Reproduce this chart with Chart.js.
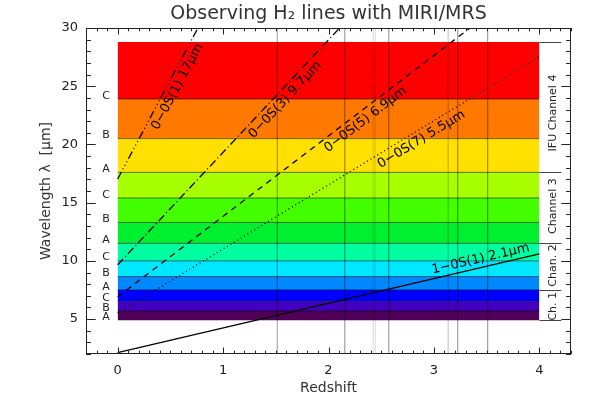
<!DOCTYPE html>
<html>
<head>
<meta charset="utf-8">
<script src="https://cdn.jsdelivr.net/npm/chart.js@4"></script>
<style>
  html, body { margin: 0; padding: 0; background: #fff; }
  #wrap { width: 598px; height: 409px; }
</style>
</head>
<body>
<div id="wrap"><canvas id="chart" width="598" height="409"></canvas></div>
<script>
// MIRI/MRS sub-band edges in micron, from bottom to top
const bandEdges = [4.9, 5.7, 6.5, 7.5, 8.65, 10.0, 11.5, 13.3, 15.4, 17.6, 20.5, 23.9, 28.8];
const bandLetters = ['A', 'B', 'C', 'A', 'B', 'C', 'A', 'B', 'C', 'A', 'B', 'C'];
const channelEdges = [4.9, 7.5, 11.5, 17.6, 28.8];
const channelNames = ['Ch. 1', 'Chan. 2', 'Channel 3', 'IFU Channel 4'];

// H2 lines: observed wavelength at z=0 and at z=4
const lineNames = ['0\u22120S(1) 17\u03bcm', '0\u22120S(3) 9.7\u03bcm', '0\u22120S(5) 6.9\u03bcm', '0\u22120S(7) 5.5\u03bcm', '1\u22120S(1) 2.1\u03bcm'];
const lineAtZ0 = [17.03, 9.66, 6.91, 5.51, 2.12];
const lineAtZ4 = [85.15, 48.3, 34.55, 27.55, 10.6];
const zStart = 0, zEnd = 4;

// redshifts of the marked sources
const sourceZ = [1.514, 2.155, 2.424, 2.443, 2.572, 3.135, 3.226, 3.510];

const xTicks = [0, 1, 2, 3, 4];
const yTicks = [5, 10, 15, 20, 25, 30];
const xMin = -0.3, xMax = 4.3, yMin = 2, yMax = 30;

// ---- styles ----
const bandColors = ['#500058', '#4400c0', '#0000ff', '#0088ff', '#00e8ff', '#00ffa0',
                    '#00f030', '#44ff00', '#a8ff00', '#ffe000', '#ff7800', '#ff0000'];
const sourceAlpha = [0.4, 0.45, 0.15, 0.15, 0.45, 0.25, 0.45, 0.45];
const lineDash = [[8, 3, 1, 3, 1, 3, 1, 3], [8, 3, 1, 3], [6, 5], [1, 3], []];
const lineLabelZ = [0.275, 1.2, 1.92, 2.43, 3.0];
const lineLabelAbove = [false, false, false, false, true];
const channelLabelY = [6.1, 9.6, 14.7, 22.7];
const FONT = "'DejaVu Sans', sans-serif";
const INK = '#222';

var datasets = [];

bandColors.forEach((c, i) => {
  datasets.push({
    data: [{x: zStart, y: bandEdges[i + 1]}, {x: zEnd, y: bandEdges[i + 1]}],
    fill: {value: bandEdges[i]},
    backgroundColor: c,
    borderColor: i == bandColors.length - 1 ? 'rgba(0,0,0,0)' : 'rgba(0,0,0,0.55)',
    borderWidth: 1,
    pointRadius: 0,
    order: 3
  });
});

sourceZ.forEach((z, i) => {
  datasets.push({
    data: [{x: z, y: yMin}, {x: z, y: yMax}],
    borderColor: 'rgba(0,0,0,' + sourceAlpha[i] + ')',
    borderWidth: 1,
    pointRadius: 0,
    fill: false,
    order: 2
  });
});

lineNames.forEach((n, i) => {
  datasets.push({
    label: n,
    data: [{x: zStart, y: lineAtZ0[i]}, {x: zEnd, y: lineAtZ4[i]}],
    borderColor: '#000',
    borderWidth: 1.3,
    borderDash: lineDash[i],
    pointRadius: 0,
    fill: false,
    order: 1
  });
});

const decor = {
  id: 'decor',
  afterDatasetsDraw(chart) {
    const ctx = chart.ctx;
    const xs = chart.scales.x, ys = chart.scales.y;
    const a = chart.chartArea;
    ctx.save();

    // frame
    ctx.strokeStyle = INK;
    ctx.lineWidth = 1;
    ctx.strokeRect(a.left + 0.5, a.top + 0.5, a.right - a.left - 1, a.bottom - a.top - 1);

    // inward ticks on all sides
    ctx.beginPath();
    for (let k = Math.ceil(xMin * 10); k <= Math.floor(xMax * 10); k++) {
      const len = k % 10 == 0 ? 6.5 : 3.3;
      const px = Math.round(xs.getPixelForValue(k / 10)) + 0.5;
      ctx.moveTo(px, a.bottom); ctx.lineTo(px, a.bottom - len);
      ctx.moveTo(px, a.top); ctx.lineTo(px, a.top + len);
    }
    for (let v = yMin; v <= yMax; v++) {
      const len = v % 5 == 0 ? 9.7 : 4.9;
      const py = Math.round(ys.getPixelForValue(v)) + 0.5;
      ctx.moveTo(a.left, py); ctx.lineTo(a.left + len, py);
      ctx.moveTo(a.right, py); ctx.lineTo(a.right - len, py);
    }
    ctx.stroke();

    // band letters
    ctx.fillStyle = INK;
    ctx.font = '11px ' + FONT;
    ctx.textAlign = 'center';
    ctx.textBaseline = 'middle';
    bandLetters.forEach((l, i) => {
      ctx.fillText(l, xs.getPixelForValue(-0.11), ys.getPixelForValue(bandEdges[i] + 0.28));
    });

    // channel separators and names
    const x4 = xs.getPixelForValue(zEnd);
    ctx.strokeStyle = '#444';
    ctx.beginPath();
    channelEdges.forEach(e => {
      const py = Math.round(ys.getPixelForValue(e)) + 0.5;
      ctx.moveTo(x4, py); ctx.lineTo(x4 + 22, py);
    });
    ctx.stroke();
    ctx.font = '11px ' + FONT;
    channelNames.forEach((n, i) => {
      ctx.save();
      ctx.translate(x4 + 14, ys.getPixelForValue(channelLabelY[i]));
      ctx.rotate(-Math.PI / 2);
      ctx.fillText(n, 0, 0);
      ctx.restore();
    });

    // H2 line labels along the lines
    ctx.font = '13px ' + FONT;
    ctx.fillStyle = '#000';
    ctx.textAlign = 'left';
    lineNames.forEach((n, i) => {
      const x0 = xs.getPixelForValue(zStart), y0 = ys.getPixelForValue(lineAtZ0[i]);
      const x1 = xs.getPixelForValue(zEnd), y1 = ys.getPixelForValue(lineAtZ4[i]);
      const t = (lineLabelZ[i] - zStart) / (zEnd - zStart);
      ctx.save();
      ctx.translate(x0 + (x1 - x0) * t, y0 + (y1 - y0) * t);
      ctx.rotate(Math.atan2(y1 - y0, x1 - x0));
      if (lineLabelAbove[i]) {
        ctx.textBaseline = 'bottom';
        ctx.fillText(n, 0, -2);
      } else {
        ctx.textBaseline = 'top';
        ctx.fillText(n, 0, 3);
      }
      ctx.restore();
    });

    // titles
    ctx.fillStyle = '#333';
    ctx.textAlign = 'center';
    ctx.textBaseline = 'middle';
    const cx = (a.left + a.right) / 2;
    ctx.font = '19px ' + FONT;
    ctx.fillText('Observing H\u2082 lines with MIRI/MRS', cx, 14);
    ctx.font = '14px ' + FONT;
    ctx.fillText('Redshift', cx, 388);
    ctx.save();
    ctx.translate(46, (a.top + a.bottom) / 2);
    ctx.rotate(-Math.PI / 2);
    ctx.fillText('Wavelength \u03bb  [\u03bcm]', 0, 0);
    ctx.restore();

    ctx.restore();
  }
};

const chart = new Chart(document.getElementById('chart'), {
  type: 'line',
  data: {datasets: datasets},
  options: {
    responsive: false,
    animation: false,
    layout: {padding: {top: 28, right: 27, left: 0, bottom: 0}},
    plugins: {legend: {display: false}, tooltip: {enabled: false}, title: {display: false}},
    scales: {
      x: {
        type: 'linear', min: xMin, max: xMax,
        afterBuildTicks: s => { s.ticks = xTicks.map(v => ({value: v})); },
        afterFit: s => { s.height = 55; },
        grid: {display: false, drawTicks: false},
        border: {display: false},
        ticks: {color: INK, font: {family: FONT, size: 13}, padding: 9, maxRotation: 0}
      },
      y: {
        type: 'linear', min: yMin, max: yMax,
        afterBuildTicks: s => { s.ticks = yTicks.map(v => ({value: v})); },
        afterFit: s => { s.width = 86; },
        grid: {display: false, drawTicks: false},
        border: {display: false},
        ticks: {color: INK, font: {family: FONT, size: 13}, padding: 8}
      }
    }
  },
  plugins: [decor]
});
</script>
</body>
</html>
